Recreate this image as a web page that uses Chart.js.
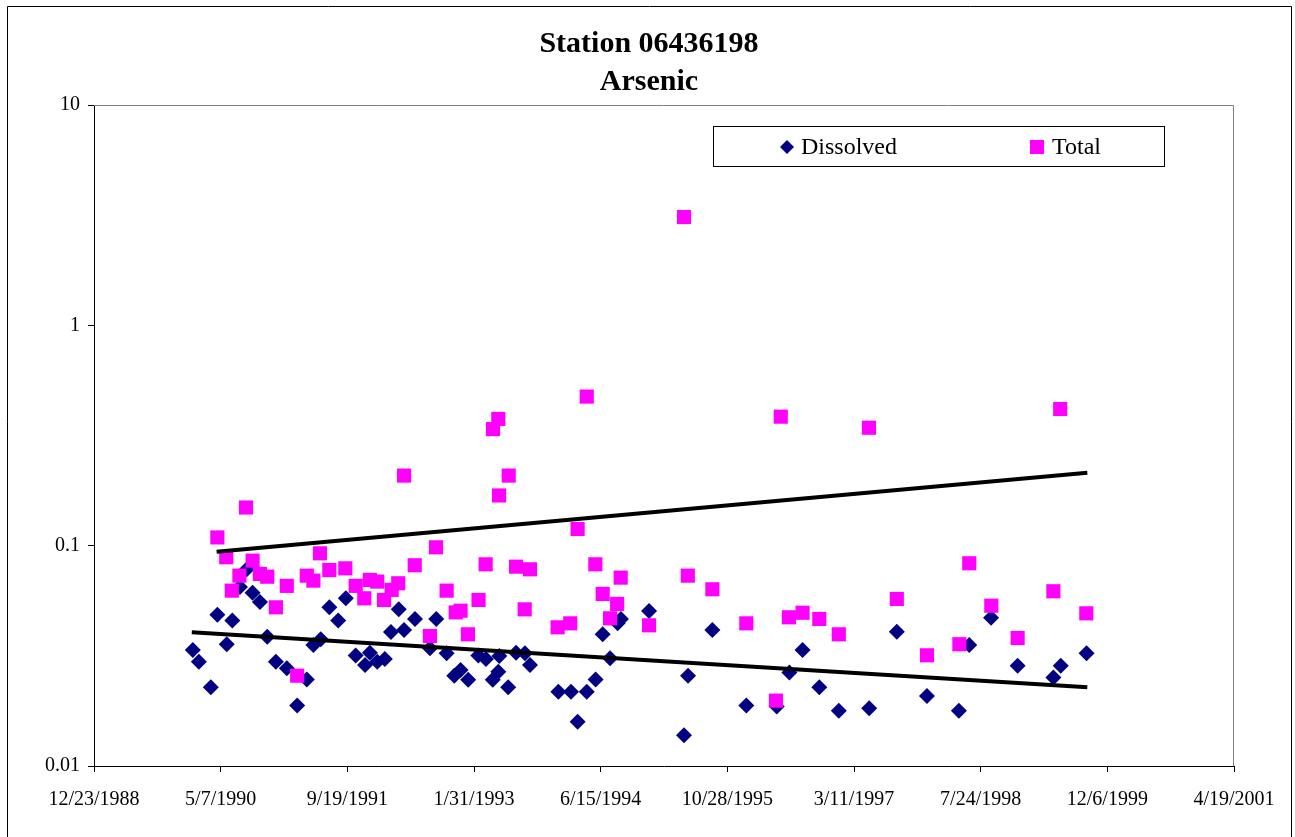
<!DOCTYPE html>
<html lang="en">
<head>
<meta charset="UTF-8">
<title>Station 06436198 - Arsenic</title>
<script src="https://cdn.jsdelivr.net/npm/chart.js"></script>
<style>
  html, body { margin: 0; padding: 0; background: #fff; }
  #wrap { width: 1295px; height: 837px; }
</style>
</head>
<body>
<div id="wrap"><canvas id="arsenicChart" width="1295" height="837"></canvas></div>
<script>
// sample dates are Excel day serials (32500 = 12/23/1988)
const dissolvedDays = [
  32890, 32914, 32961, 32987, 33024, 33046, 33076, 33103, 33126, 33155,
  33184, 33218, 33261, 33302, 33340, 33366, 33395, 33429, 33464, 33494,
  33533, 33570, 33589, 33618, 33648, 33672, 33703, 33724, 33767, 33826,
  33851, 33892, 33922, 33947, 33977, 34017, 34047, 34074, 34096, 34100,
  34135, 34166, 34201, 34221, 34333, 34383, 34409, 34445, 34480, 34508,
  34537, 34567, 34580, 34691, 34829, 34845, 34941, 35075, 35195, 35245,
  35297, 35363, 35440, 35560, 35669, 35788, 35914, 35955, 36041, 36146,
  36287, 36316, 36418
];
const dissolvedVals = [
  0.0336, 0.0297, 0.0228, 0.0486, 0.0357, 0.0457, 0.0650, 0.0781, 0.0612, 0.0555,
  0.0386, 0.0297, 0.0278, 0.0188, 0.0247, 0.0354, 0.0376, 0.0525, 0.0457, 0.0577,
  0.0317, 0.0287, 0.0327, 0.0297, 0.0306, 0.0406, 0.0514, 0.0414, 0.0465, 0.0342,
  0.0465, 0.0325, 0.0257, 0.0273, 0.0246, 0.0317, 0.0306, 0.0246, 0.0268, 0.0316,
  0.0228, 0.0327, 0.0325, 0.0287, 0.0217, 0.0217, 0.0159, 0.0217, 0.0247, 0.0396,
  0.0308, 0.0444, 0.0465, 0.0505, 0.0138, 0.0257, 0.0414, 0.0188, 0.0186, 0.0266,
  0.0336, 0.0228, 0.0178, 0.0183, 0.0407, 0.0208, 0.0178, 0.0354, 0.0471, 0.0285,
  0.0252, 0.0285, 0.0325
];
const totalDays = [
  32987, 33022, 33044, 33074, 33100, 33126, 33155, 33184, 33218, 33261,
  33302, 33340, 33366, 33392, 33429, 33492, 33533, 33567, 33589, 33618,
  33645, 33675, 33701, 33724, 33766, 33826, 33850, 33892, 33928, 33947,
  33976, 34018, 34046, 34075, 34096, 34099, 34137, 34166, 34200, 34221,
  34330, 34380, 34409, 34445, 34479, 34508, 34537, 34565, 34579, 34691,
  34829, 34844, 34941, 35075, 35192, 35211, 35243, 35297, 35363, 35440,
  35559, 35669, 35788, 35916, 35955, 36042, 36146, 36287, 36314, 36417
];
const totalVals = [
  0.109, 0.0886, 0.0625, 0.0731, 0.149, 0.0855, 0.0744, 0.0723, 0.0525, 0.0657,
  0.0257, 0.0731, 0.0694, 0.0923, 0.0775, 0.0789, 0.0657, 0.0577, 0.0699, 0.0687,
  0.0567, 0.0630, 0.0675, 0.208, 0.0815, 0.0389, 0.0983, 0.0625, 0.0498, 0.0507,
  0.0396, 0.0567, 0.0823, 0.338, 0.376, 0.169, 0.208, 0.0803, 0.0514, 0.0781,
  0.0426, 0.0444, 0.119, 0.475, 0.0823, 0.0604, 0.0468, 0.0544, 0.0716, 0.0435,
  3.10, 0.0731, 0.0634, 0.0444, 0.0198, 0.385, 0.0473, 0.0496, 0.0465, 0.0396,
  0.343, 0.0573, 0.0318, 0.0357, 0.0832, 0.0534, 0.0381, 0.0621, 0.417, 0.0493
];
// exponential trend lines, end points only (straight on a log axis)
const dissolvedTrendDays = [32886, 36421];
const dissolvedTrendVals = [0.0405, 0.0228];
const totalTrendDays = [32984, 36421];
const totalTrendVals = [0.0939, 0.2145];

const yTickVals = [0.01, 0.1, 1, 10];
const xMin = 32500, xMax = 37000, xStep = 500;
const titleLines = ['Station 06436198', 'Arsenic'];
const seriesNames = ['Dissolved', 'Total'];

const serif = '"Liberation Serif", "Times New Roman", serif';

function toPoints(xs, ys) {
  return xs.map((x, i) => ({ x: x, y: ys[i] }));
}

function serialToLabel(s) {
  const d = new Date(Date.UTC(1899, 11, 30) + s * 86400000);
  return (d.getUTCMonth() + 1) + '/' + d.getUTCDate() + '/' + d.getUTCFullYear();
}

// frame, title and legend drawn like the old spreadsheet chart
const excelFrame = {
  id: 'excelFrame',
  beforeDraw(chart) {
    const ctx = chart.ctx;
    ctx.save();
    ctx.fillStyle = '#fff';
    ctx.fillRect(0, 0, chart.width, chart.height);
    ctx.strokeStyle = '#000';
    ctx.lineWidth = 1;
    ctx.beginPath();
    ctx.moveTo(7.5, chart.height);
    ctx.lineTo(7.5, 6.5);
    ctx.lineTo(1291.5, 6.5);
    ctx.lineTo(1291.5, chart.height);
    ctx.stroke();
    ctx.restore();
  },
  beforeDatasetsDraw(chart) {
    const a = chart.chartArea;
    const ctx = chart.ctx;
    ctx.save();
    ctx.strokeStyle = '#808080';
    ctx.lineWidth = 1;
    ctx.beginPath();
    ctx.moveTo(a.left, a.top + 0.5);
    ctx.lineTo(a.right - 0.5, a.top + 0.5);
    ctx.lineTo(a.right - 0.5, a.bottom);
    ctx.stroke();
    ctx.restore();
  },
  afterDraw(chart) {
    const ctx = chart.ctx;
    ctx.save();
    // title
    ctx.fillStyle = '#000';
    ctx.font = 'bold 30px ' + serif;
    ctx.textAlign = 'center';
    ctx.textBaseline = 'middle';
    ctx.fillText(titleLines[0], 649, 44);
    ctx.fillText(titleLines[1], 649, 82);

    // legend box
    ctx.fillStyle = '#fff';
    ctx.fillRect(713.5, 126.5, 451, 40);
    ctx.strokeStyle = '#000';
    ctx.lineWidth = 1;
    ctx.strokeRect(713.5, 126.5, 451, 40);

    const cy = 147;
    const ds = chart.data.datasets;
    // diamond
    ctx.fillStyle = ds[0].backgroundColor;
    ctx.beginPath();
    ctx.moveTo(787, cy - 7);
    ctx.lineTo(794, cy);
    ctx.lineTo(787, cy + 7);
    ctx.lineTo(780, cy);
    ctx.closePath();
    ctx.fill();
    // square
    ctx.fillStyle = ds[1].backgroundColor;
    ctx.fillRect(1030, cy - 7, 14, 14);

    ctx.fillStyle = '#000';
    ctx.font = '24px ' + serif;
    ctx.textAlign = 'left';
    ctx.fillText(seriesNames[0], 801, cy + 1);
    ctx.fillText(seriesNames[1], 1052, cy + 1);
    ctx.restore();
  }
};

new Chart(document.getElementById('arsenicChart'), {
  type: 'scatter',
  data: {
    datasets: [
      {
        label: seriesNames[0],
        data: toPoints(dissolvedDays, dissolvedVals),
        backgroundColor: '#000080',
        pointStyle: 'rectRot',
        pointRadius: 8,
        pointBorderWidth: 0,
        order: 2
      },
      {
        label: seriesNames[1],
        data: toPoints(totalDays, totalVals),
        backgroundColor: '#FF00FF',
        pointStyle: 'rect',
        pointRadius: 10,
        pointBorderWidth: 0,
        order: 1
      },
      {
        label: 'Dissolved trend',
        data: toPoints(dissolvedTrendDays, dissolvedTrendVals),
        showLine: true,
        borderColor: '#000',
        borderWidth: 4,
        pointRadius: 0,
        order: 0
      },
      {
        label: 'Total trend',
        data: toPoints(totalTrendDays, totalTrendVals),
        showLine: true,
        borderColor: '#000',
        borderWidth: 4,
        pointRadius: 0,
        order: 0
      }
    ]
  },
  options: {
    responsive: false,
    animation: false,
    devicePixelRatio: 1,
    events: [],
    layout: { padding: { top: 105, right: 61, left: 0, bottom: 0 } },
    plugins: {
      legend: { display: false },
      title: { display: false },
      tooltip: { enabled: false }
    },
    scales: {
      x: {
        type: 'linear',
        min: xMin,
        max: xMax,
        afterFit: s => { s.height = 71; },
        ticks: {
          stepSize: xStep,
          autoSkip: false,
          maxRotation: 0,
          padding: 16,
          color: '#000',
          font: { family: serif, size: 20 },
          callback: v => serialToLabel(v)
        },
        grid: { drawOnChartArea: false, tickLength: 6, color: '#000' },
        border: { color: '#000', width: 1 }
      },
      y: {
        type: 'logarithmic',
        min: 0.01,
        max: 10,
        afterFit: s => { s.width = 94; },
        afterBuildTicks: s => { s.ticks = yTickVals.map(v => ({ value: v })); },
        ticks: {
          padding: 8,
          color: '#000',
          font: { family: serif, size: 20 },
          callback: v => String(v)
        },
        grid: { drawOnChartArea: false, tickLength: 6, color: '#000' },
        border: { color: '#000', width: 1 }
      }
    }
  },
  plugins: [excelFrame]
});
</script>
</body>
</html>
